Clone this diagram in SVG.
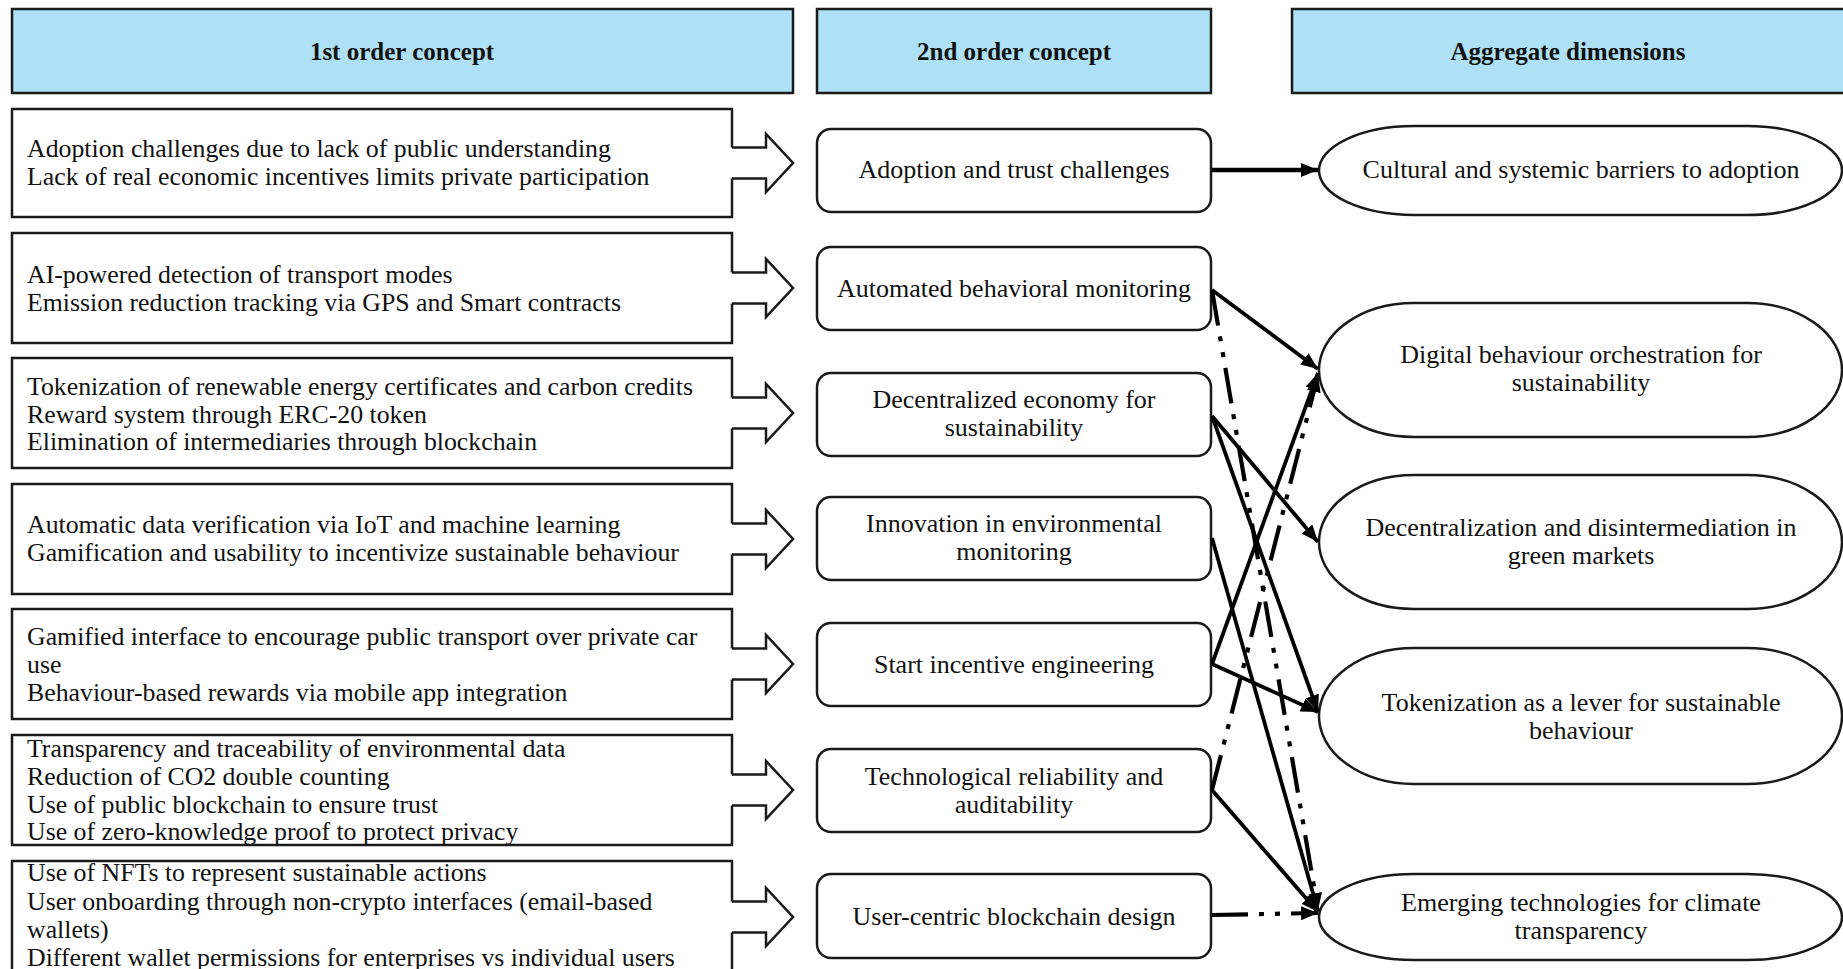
<svg xmlns="http://www.w3.org/2000/svg" width="1843" height="969" viewBox="0 0 1843 969">
<style>
.hdr{fill:#AEE1F5;stroke:#1a1a1a;stroke-width:2.5}
.hdrt{font-family:"Liberation Serif",serif;font-weight:bold;font-size:25px;fill:#111;text-anchor:middle}
.box1{fill:#fff;stroke:#1a1a1a;stroke-width:2.5}
.box2{fill:#fff;stroke:#1a1a1a;stroke-width:2.5}
.ell{fill:#fff;stroke:#1a1a1a;stroke-width:2.5}
.t1{font-family:"Liberation Serif",serif;font-size:25.8px;fill:#111}
.tc{font-family:"Liberation Serif",serif;font-size:26px;fill:#111;text-anchor:middle}
.barrow{fill:#fff;stroke:none}
.barrowo{fill:none;stroke:#1a1a1a;stroke-width:2.5;stroke-linejoin:miter}
.solid{fill:none;stroke:#000;stroke-width:3.8;marker-end:url(#ah)}
.dd{fill:none;stroke:#000;stroke-width:4.2;stroke-dasharray:36 11 5 11 5 11;marker-end:url(#ah)}
</style>
<defs>
<marker id="ah" markerUnits="userSpaceOnUse" markerWidth="18" markerHeight="14" refX="17" refY="7" orient="auto">
<path d="M0,0 L17,7 L0,14 Z" fill="#000"/>
</marker>
<g id="blockarrow">
<path class="barrow" d="M728,-15.5 L766,-15.5 L766,-29 L793,0 L766,29 L766,15.5 L728,15.5 Z"/>
<path class="barrowo" d="M732,-15.5 L766,-15.5 L766,-29 L793,0 L766,29 L766,15.5 L732,15.5"/>
</g>
</defs>
<rect width="1843" height="969" fill="#fff"/>

<g id="header-1st">
<rect class="hdr" x="12" y="9" width="781" height="84"/>
<text class="hdrt" x="402" y="60">1st order concept</text>
</g>
<g id="header-2nd">
<rect class="hdr" x="817" y="9" width="394" height="84"/>
<text class="hdrt" x="1014" y="60">2nd order concept</text>
</g>
<g id="header-agg">
<rect class="hdr" x="1292" y="9" width="560" height="84"/>
<text class="hdrt" x="1568" y="60">Aggregate dimensions</text>
</g>

<g id="c1-1">
<rect class="box1" x="12" y="109" width="720" height="108"/>
<use href="#blockarrow" y="163"/>
<text class="t1" x="27" y="157">Adoption challenges due to lack of public understanding</text>
<text class="t1" x="27" y="185">Lack of real economic incentives limits private participation</text>
</g>
<g id="c1-2">
<rect class="box1" x="12" y="233" width="720" height="110"/>
<use href="#blockarrow" y="288"/>
<text class="t1" x="27" y="283">AI-powered detection of transport modes</text>
<text class="t1" x="27" y="311">Emission reduction tracking via GPS and Smart contracts</text>
</g>
<g id="c1-3">
<rect class="box1" x="12" y="358" width="720" height="110"/>
<use href="#blockarrow" y="413"/>
<text class="t1" x="27" y="395">Tokenization of renewable energy certificates and carbon credits</text>
<text class="t1" x="27" y="423">Reward system through ERC-20 token</text>
<text class="t1" x="27" y="450">Elimination of intermediaries through blockchain</text>
</g>
<g id="c1-4">
<rect class="box1" x="12" y="484" width="720" height="110"/>
<use href="#blockarrow" y="539"/>
<text class="t1" x="27" y="533">Automatic data verification via IoT and machine learning</text>
<text class="t1" x="27" y="561">Gamification and usability to incentivize sustainable behaviour</text>
</g>
<g id="c1-5">
<rect class="box1" x="12" y="609" width="720" height="110"/>
<use href="#blockarrow" y="664"/>
<text class="t1" x="27" y="645">Gamified interface to encourage public transport over private car</text>
<text class="t1" x="27" y="673">use</text>
<text class="t1" x="27" y="701">Behaviour-based rewards via mobile app integration</text>
</g>
<g id="c1-6">
<rect class="box1" x="12" y="735" width="720" height="110"/>
<use href="#blockarrow" y="790"/>
<text class="t1" x="27" y="757">Transparency and traceability of environmental data</text>
<text class="t1" x="27" y="785">Reduction of CO2 double counting</text>
<text class="t1" x="27" y="813">Use of public blockchain to ensure trust</text>
<text class="t1" x="27" y="840">Use of zero-knowledge proof to protect privacy</text>
</g>
<g id="c1-7">
<rect class="box1" x="12" y="861" width="720" height="112"/>
<use href="#blockarrow" y="917"/>
<text class="t1" x="27" y="881">Use of NFTs to represent sustainable actions</text>
<text class="t1" x="27" y="910">User onboarding through non-crypto interfaces (email-based</text>
<text class="t1" x="27" y="938">wallets)</text>
<text class="t1" x="27" y="966">Different wallet permissions for enterprises vs individual users</text>
</g>

<g id="c2-1">
<rect class="box2" x="817" y="129" width="394" height="83" rx="14"/>
<text class="tc" x="1014" y="178">Adoption and trust challenges</text>
</g>
<g id="c2-2">
<rect class="box2" x="817" y="247" width="394" height="83" rx="14"/>
<text class="tc" x="1014" y="297">Automated behavioral monitoring</text>
</g>
<g id="c2-3">
<rect class="box2" x="817" y="373" width="394" height="83" rx="14"/>
<text class="tc" x="1014" y="408">Decentralized economy for</text>
<text class="tc" x="1014" y="436">sustainability</text>
</g>
<g id="c2-4">
<rect class="box2" x="817" y="497" width="394" height="83" rx="14"/>
<text class="tc" x="1014" y="532">Innovation in environmental</text>
<text class="tc" x="1014" y="560">monitoring</text>
</g>
<g id="c2-5">
<rect class="box2" x="817" y="623" width="394" height="83" rx="14"/>
<text class="tc" x="1014" y="673">Start incentive engineering</text>
</g>
<g id="c2-6">
<rect class="box2" x="817" y="749" width="394" height="83" rx="14"/>
<text class="tc" x="1014" y="785">Technological reliability and</text>
<text class="tc" x="1014" y="813">auditability</text>
</g>
<g id="c2-7">
<rect class="box2" x="817" y="874" width="394" height="84" rx="14"/>
<text class="tc" x="1014" y="925">User-centric blockchain design</text>
</g>

<g id="a-1">
<rect class="ell" x="1319" y="126" width="523" height="89" rx="95" ry="44.5"/>
<text class="tc" x="1581" y="178">Cultural and systemic barriers to adoption</text>
</g>
<g id="a-2">
<rect class="ell" x="1319" y="303" width="523" height="134" rx="95" ry="67"/>
<text class="tc" x="1581" y="363">Digital behaviour orchestration for</text>
<text class="tc" x="1581" y="391">sustainability</text>
</g>
<g id="a-3">
<rect class="ell" x="1319" y="475" width="523" height="134" rx="95" ry="67"/>
<text class="tc" x="1581" y="536">Decentralization and disintermediation in</text>
<text class="tc" x="1581" y="564">green markets</text>
</g>
<g id="a-4">
<rect class="ell" x="1319" y="648" width="523" height="136" rx="95" ry="68"/>
<text class="tc" x="1581" y="711">Tokenization as a lever for sustainable</text>
<text class="tc" x="1581" y="739">behaviour</text>
</g>
<g id="a-5">
<rect class="ell" x="1319" y="874" width="523" height="86" rx="95" ry="43"/>
<text class="tc" x="1581" y="911">Emerging technologies for climate</text>
<text class="tc" x="1581" y="939">transparency</text>
</g>

<g id="connectors">
<line class="solid" x1="1212" y1="170" x2="1318" y2="170" style="stroke-width:4.5"/>
<line class="solid" x1="1212" y1="290" x2="1318" y2="369"/>
<line class="dd" x1="1212" y1="290" x2="1318" y2="910"/>
<line class="solid" x1="1212" y1="416" x2="1318" y2="542"/>
<line class="solid" x1="1212" y1="416" x2="1318" y2="712"/>
<line class="solid" x1="1212" y1="538" x2="1318" y2="911"/>
<line class="solid" x1="1212" y1="664" x2="1318" y2="373"/>
<line class="solid" x1="1212" y1="664" x2="1318" y2="712"/>
<line class="dd" x1="1212" y1="790" x2="1318" y2="375"/>
<line class="solid" x1="1212" y1="790" x2="1318" y2="912"/>
<line class="dd" x1="1212" y1="915" x2="1318" y2="913"/>
</g>
</svg>
